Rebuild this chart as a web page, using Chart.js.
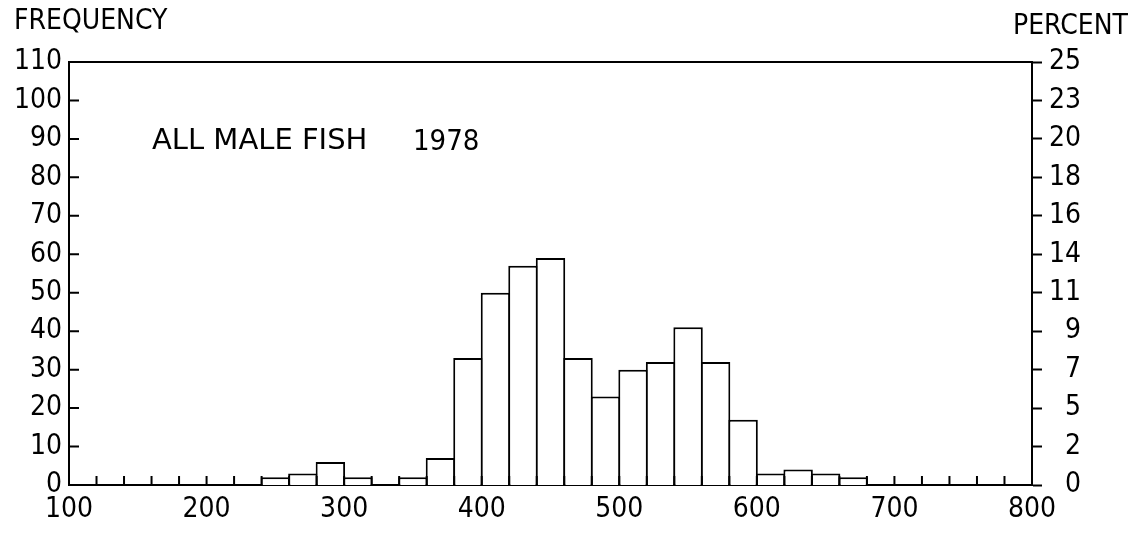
<!DOCTYPE html>
<html>

<head>
    <title>All male fish 1978</title>
    <script src="https://cdn.jsdelivr.net/npm/chart.js"></script>
    <style>
        body { margin: 0; background: #fff; }
        #wrap { width: 1144px; height: 533px; }
    </style>
</head>

<body>
    <div id="wrap">
        <canvas id="myChart" width="1144" height="533"></canvas>
    </div>

    <script>
        // histogram bins (lower edge of each 20-wide bin) and frequencies
        var binStart = [240, 260, 280, 300, 320, 340, 360, 380, 400, 420, 440,
                        460, 480, 500, 520, 540, 560, 580, 600, 620, 640, 660];
        var counts = [2, 3, 6, 2, 0, 2, 7, 33, 50, 57, 59,
                      33, 23, 30, 32, 41, 32, 17, 3, 4, 3, 2];
        var binWidth = 20;

        // tick labels
        var xTickLabels = ['100', '200', '300', '400', '500', '600', '700', '800'];
        var freqTicks = [0, 10, 20, 30, 40, 50, 60, 70, 80, 90, 100, 110];
        var pctLabels = ['0', '2', '5', '7', '9', '11', '14', '16', '18', '20', '23', '25'];

        var FONT = '"DejaVu Sans Condensed", "DejaVu Sans", sans-serif';

        var points = binStart.map(function (s, i) {
            return { x: s + binWidth / 2, y: counts[i] };
        });

        // inward tick marks, top frame line and free text
        var framePlugin = {
            id: 'frame',
            afterDraw: function (chart) {
                var ctx = chart.ctx, a = chart.chartArea;
                var x = chart.scales.x, y = chart.scales.y;
                ctx.save();
                ctx.strokeStyle = '#000';
                ctx.lineWidth = 2;
                ctx.beginPath();
                ctx.moveTo(a.left, a.top);
                ctx.lineTo(a.right, a.top);
                x.ticks.forEach(function (t) {
                    var px = x.getPixelForValue(t.value);
                    ctx.moveTo(px, a.bottom);
                    ctx.lineTo(px, a.bottom - 9);
                });
                y.ticks.forEach(function (t) {
                    if (t.value >= 110) return;
                    var py = y.getPixelForValue(t.value);
                    ctx.moveTo(a.left, py);
                    ctx.lineTo(a.left + 10, py);
                });
                ctx.stroke();

                ctx.fillStyle = '#000';
                ctx.textBaseline = 'alphabetic';
                ctx.textAlign = 'left';
                ctx.font = '28px ' + FONT;
                ctx.fillText('FREQUENCY', 14, 29);
                ctx.fillText('PERCENT', 1013, 34);
                ctx.font = '29px "DejaVu Sans", sans-serif';
                ctx.fillText('ALL MALE FISH', 152, 149);
                ctx.font = '29px ' + FONT;
                ctx.fillText('1978', 413, 150);
                ctx.restore();
            }
        };

        var ctx = document.getElementById('myChart').getContext('2d');
        var myChart = new Chart(ctx, {
            type: 'bar',
            data: {
                datasets: [{
                    data: points,
                    backgroundColor: '#fff',
                    borderColor: '#000',
                    borderWidth: 2,
                    // slight overlap so neighbouring outlines share one line
                    barPercentage: 1.07,
                    categoryPercentage: 1,
                    yAxisID: 'y'
                }]
            },
            options: {
                responsive: false,
                animation: false,
                layout: { padding: { left: 0, right: 63, top: 62, bottom: 0 } },
                plugins: {
                    legend: { display: false },
                    tooltip: { enabled: false }
                },
                scales: {
                    x: {
                        type: 'linear',
                        min: 100,
                        max: 800,
                        offset: false,
                        grid: { display: false, drawTicks: false, offset: false },
                        border: { display: true, color: '#000', width: 2 },
                        ticks: {
                            stepSize: 20,
                            autoSkip: false,
                            maxRotation: 0,
                            padding: 8,
                            color: '#000',
                            font: { family: FONT, size: 28 },
                            callback: function (v) {
                                return xTickLabels.indexOf(String(v)) >= 0 ? String(v) : '';
                            }
                        },
                        afterFit: function (s) { s.height = 48; }
                    },
                    y: {
                        position: 'left',
                        min: 0,
                        max: 110,
                        grid: { display: false, drawTicks: false },
                        border: { display: true, color: '#000', width: 2 },
                        ticks: {
                            stepSize: 10,
                            padding: 7,
                            color: '#000',
                            font: { family: FONT, size: 28 },
                            callback: function (v) {
                                return freqTicks.indexOf(v) >= 0 ? String(v) : '';
                            }
                        },
                        afterFit: function (s) { s.width = 69; }
                    },
                    y2: {
                        position: 'right',
                        min: 0,
                        max: 110,
                        grid: {
                            display: true,
                            drawOnChartArea: false,
                            drawTicks: true,
                            tickLength: 10,
                            tickWidth: 2,
                            tickColor: '#000'
                        },
                        border: { display: true, color: '#000', width: 2 },
                        ticks: {
                            stepSize: 10,
                            padding: 3,
                            crossAlign: 'far',
                            color: '#000',
                            font: { family: FONT, size: 28 },
                            callback: function (v) {
                                return pctLabels[Math.round(v / 10)];
                            }
                        },
                        afterFit: function (s) { s.width = 49; }
                    }
                }
            },
            plugins: [framePlugin]
        });
    </script>
</body>

</html>
